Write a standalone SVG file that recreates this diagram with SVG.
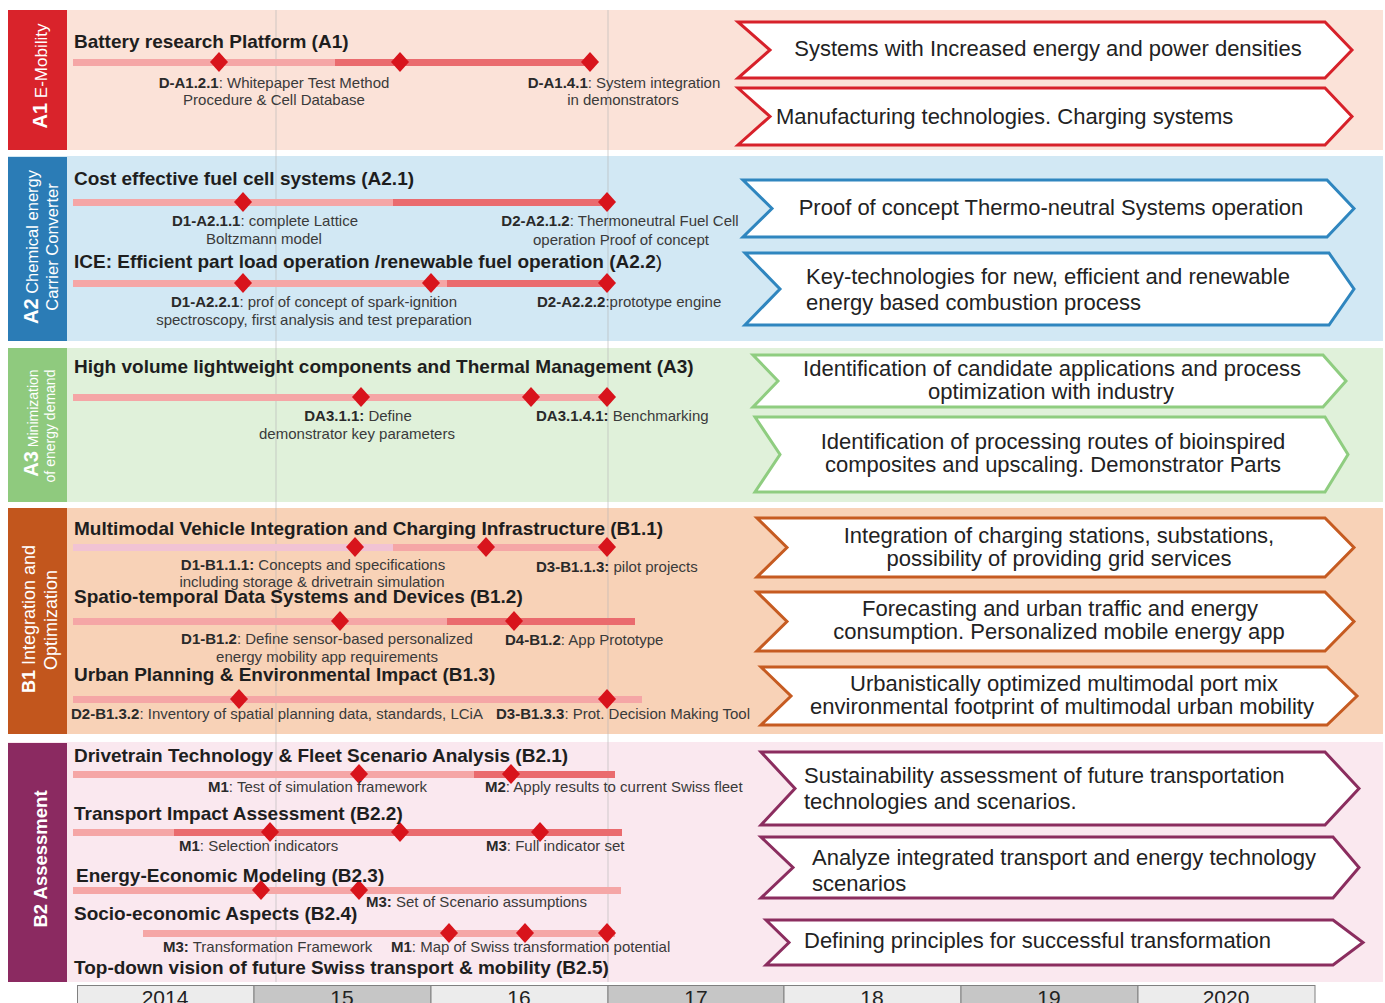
<svg xmlns="http://www.w3.org/2000/svg" xmlns:xlink="http://www.w3.org/1999/xlink" width="1385" height="1003" viewBox="0 0 1385 1003">
<style>
text{font-family:"Liberation Sans",Arial,sans-serif;}
.ttl{font-size:19px;font-weight:bold;fill:#1e1e1e;}
.lbl{font-size:15px;fill:#3a3a3a;}
.lbl tspan.b{font-weight:bold;fill:#2a2a2a;}
.side{fill:#ffffff;}
.big{font-weight:bold;font-size:20px;}
.arr{fill:#ffffff;stroke-width:3;stroke-linejoin:miter;}
.at{font-size:22px;fill:#222;}
.lt{fill:#f5a6a6;}
.dk{fill:#ea6b6e;}
.lv{fill:#f1c3d4;}
.dm{fill:#d8141c;}
.grid{stroke:#b5b5b5;stroke-width:1;opacity:0.6;}
.cellL{fill:#ececec;stroke:#808080;stroke-width:1;}
.cellD{fill:#c6c6c6;stroke:#808080;stroke-width:1;}
.yr{font-size:21px;fill:#222;text-anchor:middle;}
</style>
<defs>
<polygon id="dmd" class="dm" points="0,-10 9,0 0,10 -9,0"/>
</defs>
<rect x="0" y="0" width="1385" height="1003" fill="#ffffff"/>
<g id="bands">
<rect x="8" y="10" width="1375" height="140" fill="#fbe2d8"/>
<rect x="8" y="156" width="1375" height="185" fill="#d2e8f4"/>
<rect x="8" y="348" width="1375" height="154" fill="#e0f1da"/>
<rect x="8" y="508" width="1375" height="226" fill="#f8d2b7"/>
<rect x="8" y="742" width="1375" height="240" fill="#fae8ef"/>
</g>
<g id="gridlines">
<line class="grid" x1="276" y1="10" x2="276" y2="982"/>
<line class="grid" x1="608" y1="10" x2="608" y2="982"/>
</g>
<g id="label-A1">
<rect x="8" y="10" width="59" height="140" fill="#d9232b"/>
<text class="side" transform="translate(47,76) rotate(-90)" text-anchor="middle" font-size="17"><tspan class="big">A1</tspan> E-Mobility</text>
</g>
<g id="label-A2">
<rect x="8" y="157" width="59" height="184" fill="#2b7cb6"/>
<text class="side" transform="translate(38,247) rotate(-90)" text-anchor="middle" font-size="16.5"><tspan class="big">A2</tspan> Chemical energy</text>
<text class="side" transform="translate(58,247) rotate(-90)" text-anchor="middle" font-size="16.5">Carrier Converter</text>
</g>
<g id="label-A3">
<rect x="8" y="348" width="59" height="154" fill="#8fca7e"/>
<text class="side" transform="translate(38,423) rotate(-90)" text-anchor="middle" font-size="14"><tspan class="big">A3</tspan> Minimization</text>
<text class="side" transform="translate(55,426) rotate(-90)" text-anchor="middle" font-size="14">of energy demand</text>
</g>
<g id="label-B1">
<rect x="8" y="508" width="59" height="226" fill="#c2561d"/>
<text class="side" transform="translate(35,619) rotate(-90)" text-anchor="middle" font-size="18"><tspan font-weight="bold">B1</tspan> Integration and</text>
<text class="side" transform="translate(57,620) rotate(-90)" text-anchor="middle" font-size="18">Optimization</text>
</g>
<g id="label-B2">
<rect x="8" y="743" width="59" height="239" fill="#8b2a61"/>
<text class="side" transform="translate(47,859) rotate(-90)" text-anchor="middle" font-size="18.5" font-weight="bold">B2 Assessment</text>
</g>
<g id="connectors">
<rect class="lt" x="73" y="59" width="262" height="7"/>
<rect class="dk" x="335" y="59" width="255" height="7"/>
<rect class="lt" x="73" y="199" width="320" height="7"/>
<rect class="dk" x="393" y="199" width="214" height="7"/>
<rect class="lt" x="73" y="280" width="374" height="7"/>
<rect class="dk" x="447" y="280" width="160" height="7"/>
<rect class="lt" x="73" y="394" width="537" height="7"/>
<rect class="lv" x="73" y="544" width="320" height="7"/>
<rect class="lt" x="393" y="544" width="214" height="7"/>
<rect class="lt" x="73" y="618" width="374" height="7"/>
<rect class="dk" x="447" y="618" width="188" height="7"/>
<rect class="lt" x="73" y="696" width="569" height="7"/>
<rect class="lt" x="73" y="771" width="401" height="7"/>
<rect class="dk" x="474" y="771" width="141" height="7"/>
<rect class="lt" x="73" y="829" width="101" height="7"/>
<rect class="dk" x="174" y="829" width="448" height="7"/>
<rect class="lt" x="73" y="887" width="548" height="7"/>
<rect class="lt" x="143" y="930" width="472" height="7"/>
</g>
<g id="milestones">
<use xlink:href="#dmd" x="219" y="62"/><use xlink:href="#dmd" x="400" y="62"/><use xlink:href="#dmd" x="590" y="62"/>
<use xlink:href="#dmd" x="243" y="202"/><use xlink:href="#dmd" x="607" y="202"/>
<use xlink:href="#dmd" x="243" y="283"/><use xlink:href="#dmd" x="431" y="283"/><use xlink:href="#dmd" x="607" y="283"/>
<use xlink:href="#dmd" x="361" y="397"/><use xlink:href="#dmd" x="531" y="397"/><use xlink:href="#dmd" x="607" y="397"/>
<use xlink:href="#dmd" x="355" y="547"/><use xlink:href="#dmd" x="486" y="547"/><use xlink:href="#dmd" x="607" y="547"/>
<use xlink:href="#dmd" x="340" y="621"/><use xlink:href="#dmd" x="514" y="621"/>
<use xlink:href="#dmd" x="239" y="699"/><use xlink:href="#dmd" x="607" y="699"/>
<use xlink:href="#dmd" x="359" y="774"/><use xlink:href="#dmd" x="511" y="774"/>
<use xlink:href="#dmd" x="270" y="832"/><use xlink:href="#dmd" x="400" y="832"/><use xlink:href="#dmd" x="540" y="832"/>
<use xlink:href="#dmd" x="261" y="890"/><use xlink:href="#dmd" x="359" y="890"/>
<use xlink:href="#dmd" x="449" y="933"/><use xlink:href="#dmd" x="525" y="933"/><use xlink:href="#dmd" x="607" y="933"/>
</g>
<g id="task-A1">
<text class="ttl" x="74" y="48">Battery research Platform (A1)</text>
<text class="lbl" x="274" y="88" text-anchor="middle"><tspan class="b">D-A1.2.1</tspan>: Whitepaper Test Method</text>
<text class="lbl" x="274" y="105" text-anchor="middle">Procedure &amp; Cell Database</text>
<text class="lbl" x="624" y="88" text-anchor="middle"><tspan class="b">D-A1.4.1</tspan>: System integration</text>
<text class="lbl" x="623" y="105" text-anchor="middle">in demonstrators</text>
</g>
<g id="task-A2-1">
<text class="ttl" x="74" y="185">Cost effective fuel cell systems (A2.1)</text>
<text class="lbl" x="265" y="226" text-anchor="middle"><tspan class="b">D1-A2.1.1</tspan>: complete Lattice</text>
<text class="lbl" x="264" y="244" text-anchor="middle">Boltzmann model</text>
<text class="lbl" x="620" y="226" text-anchor="middle"><tspan class="b">D2-A2.1.2</tspan>: Thermoneutral Fuel Cell</text>
<text class="lbl" x="621" y="245" text-anchor="middle">operation Proof of concept</text>
</g>
<g id="task-A2-2">
<text class="ttl" x="74" y="268">ICE: Efficient part load operation /renewable fuel operation (A2.2<tspan font-weight="normal">)</tspan></text>
<text class="lbl" x="314" y="307" text-anchor="middle"><tspan class="b">D1-A2.2.1</tspan>: prof of concept of spark-ignition</text>
<text class="lbl" x="314" y="325" text-anchor="middle">spectroscopy, first analysis and test preparation</text>
<text class="lbl" x="537" y="307"><tspan class="b">D2-A2.2.2</tspan>:prototype engine</text>
</g>
<g id="task-A3">
<text class="ttl" x="74" y="373">High volume lightweight components and Thermal Management (A3)</text>
<text class="lbl" x="358" y="421" text-anchor="middle"><tspan class="b">DA3.1.1:</tspan> Define</text>
<text class="lbl" x="357" y="439" text-anchor="middle">demonstrator key parameters</text>
<text class="lbl" x="536" y="421"><tspan class="b">DA3.1.4.1:</tspan> Benchmarking</text>
</g>
<g id="task-B1-1">
<text class="ttl" x="74" y="535">Multimodal Vehicle Integration and Charging Infrastructure (B1.1)</text>
<text class="lbl" x="313" y="570" text-anchor="middle"><tspan class="b">D1-B1.1.1:</tspan> Concepts and specifications</text>
<text class="lbl" x="312" y="587" text-anchor="middle">including storage &amp; drivetrain simulation</text>
<text class="lbl" x="536" y="572"><tspan class="b">D3-B1.1.3:</tspan> pilot projects</text>
</g>
<g id="task-B1-2">
<text class="ttl" x="74" y="603">Spatio-temporal Data Systems and Devices (B1.2)</text>
<text class="lbl" x="327" y="644" text-anchor="middle"><tspan class="b">D1-B1.2</tspan>: Define sensor-based personalized</text>
<text class="lbl" x="327" y="662" text-anchor="middle">energy mobility app requirements</text>
<text class="lbl" x="505" y="645"><tspan class="b">D4-B1.2</tspan>: App Prototype</text>
</g>
<g id="task-B1-3">
<text class="ttl" x="74" y="681">Urban Planning &amp; Environmental Impact (B1.3)</text>
<text class="lbl" x="71" y="719"><tspan class="b">D2-B1.3.2</tspan>: Inventory of spatial planning data, standards, LCiA</text>
<text class="lbl" x="496" y="719"><tspan class="b">D3-B1.3.3</tspan>: Prot. Decision Making Tool</text>
</g>
<g id="task-B2-1">
<text class="ttl" x="74" y="762">Drivetrain Technology &amp; Fleet Scenario Analysis (B2.1)</text>
<text class="lbl" x="208" y="792"><tspan class="b">M1</tspan>: Test of simulation framework</text>
<text class="lbl" x="485" y="792"><tspan class="b">M2</tspan>: Apply results to current Swiss fleet</text>
</g>
<g id="task-B2-2">
<text class="ttl" x="74" y="820">Transport Impact Assessment (B2.2)</text>
<text class="lbl" x="179" y="851"><tspan class="b">M1</tspan>: Selection indicators</text>
<text class="lbl" x="486" y="851"><tspan class="b">M3</tspan>: Full indicator set</text>
</g>
<g id="task-B2-3">
<text class="ttl" x="76" y="882">Energy-Economic Modeling (B2.3)</text>
<text class="lbl" x="366" y="907"><tspan class="b">M3:</tspan> Set of Scenario assumptions</text>
</g>
<g id="task-B2-4">
<text class="ttl" x="74" y="920">Socio-economic Aspects (B2.4)</text>
<text class="lbl" x="163" y="952"><tspan class="b">M3:</tspan> Transformation Framework</text>
<text class="lbl" x="391" y="952"><tspan class="b">M1</tspan>: Map of Swiss transformation potential</text>
</g>
<g id="task-B2-5">
<text class="ttl" x="74" y="974">Top-down vision of future Swiss transport &amp; mobility (B2.5)</text>
</g>
<g id="out-A1-1">
<path class="arr" stroke="#d7212a" d="M738,22 L1325,22 L1352,50 L1325,78 L738,78 L770,50 Z"/>
<text class="at" x="1048" y="56" text-anchor="middle">Systems with Increased energy and power densities</text>
</g>
<g id="out-A1-2">
<path class="arr" stroke="#d7212a" d="M738,88 L1325,88 L1352,116.5 L1325,145 L738,145 L770,116.5 Z"/>
<text class="at" x="776" y="124">Manufacturing technologies. Charging systems</text>
</g>
<g id="out-A2-1">
<path class="arr" stroke="#2f86bf" d="M743,180 L1327,180 L1354,208.5 L1327,237 L743,237 L772,208.5 Z"/>
<text class="at" x="1051" y="215" text-anchor="middle">Proof of concept Thermo-neutral Systems operation</text>
</g>
<g id="out-A2-2">
<path class="arr" stroke="#2f86bf" d="M745,253 L1329,253 L1354,289 L1329,325 L745,325 L780,289 Z"/>
<text class="at" x="806" y="284">Key-technologies for new, efficient and renewable</text>
<text class="at" x="806" y="310">energy based combustion process</text>
</g>
<g id="out-A3-1">
<path class="arr" stroke="#8fcd80" d="M753,355 L1323,355 L1346,381 L1323,407 L753,407 L778,381 Z"/>
<text class="at" x="1052" y="376" text-anchor="middle">Identification of candidate applications and process</text>
<text class="at" x="1051" y="399" text-anchor="middle">optimization with industry</text>
</g>
<g id="out-A3-2">
<path class="arr" stroke="#8fcd80" d="M755,417 L1325,417 L1348,454.5 L1325,492 L755,492 L780,454.5 Z"/>
<text class="at" x="1053" y="449" text-anchor="middle">Identification of processing routes  of bioinspired</text>
<text class="at" x="1053" y="472" text-anchor="middle">composites and upscaling. Demonstrator Parts</text>
</g>
<g id="out-B1-1">
<path class="arr" stroke="#c65b21" d="M757,518 L1325,518 L1354,547.5 L1325,577 L757,577 L787,547.5 Z"/>
<text class="at" x="1059" y="543" text-anchor="middle">Integration of charging stations, substations,</text>
<text class="at" x="1059" y="566" text-anchor="middle">possibility of providing grid services</text>
</g>
<g id="out-B1-2">
<path class="arr" stroke="#c65b21" d="M757,592 L1325,592 L1354,621.5 L1325,651 L757,651 L787,621.5 Z"/>
<text class="at" x="1060" y="616" text-anchor="middle">Forecasting and urban traffic and energy</text>
<text class="at" x="1059" y="639" text-anchor="middle">consumption. Personalized mobile energy app</text>
</g>
<g id="out-B1-3">
<path class="arr" stroke="#c65b21" d="M761,667 L1327,667 L1357,696 L1327,725 L761,725 L791,696 Z"/>
<text class="at" x="1064" y="691" text-anchor="middle">Urbanistically optimized multimodal port mix</text>
<text class="at" x="1062" y="714" text-anchor="middle">environmental footprint of multimodal urban mobility</text>
</g>
<g id="out-B2-1">
<path class="arr" stroke="#8b2d5f" d="M761,752 L1325,752 L1359,788.5 L1325,825 L761,825 L795,788.5 Z"/>
<text class="at" x="804" y="783">Sustainability assessment of future transportation</text>
<text class="at" x="804" y="809">technologies and scenarios.</text>
</g>
<g id="out-B2-2">
<path class="arr" stroke="#8b2d5f" d="M761,837 L1333,837 L1359,867.5 L1333,898 L761,898 L793,867.5 Z"/>
<text class="at" x="812" y="865">Analyze integrated transport and energy technology</text>
<text class="at" x="812" y="891">scenarios</text>
</g>
<g id="out-B2-3">
<path class="arr" stroke="#8b2d5f" d="M766,920 L1333,920 L1363,942.5 L1333,965 L766,965 L789,942.5 Z"/>
<text class="at" x="804" y="948">Defining principles for successful transformation</text>
</g>
<g id="years">
<rect class="cellL" x="77.5" y="985.5" width="176.5" height="25"/>
<rect class="cellD" x="254" y="985.5" width="177" height="25"/>
<rect class="cellL" x="431" y="985.5" width="177" height="25"/>
<rect class="cellD" x="608" y="985.5" width="176" height="25"/>
<rect class="cellL" x="784" y="985.5" width="177" height="25"/>
<rect class="cellD" x="961" y="985.5" width="177" height="25"/>
<rect class="cellL" x="1138" y="985.5" width="177" height="25"/>
<text class="yr" x="165" y="1005">2014</text>
<text class="yr" x="342" y="1005">15</text>
<text class="yr" x="519" y="1005">16</text>
<text class="yr" x="696" y="1005">17</text>
<text class="yr" x="872" y="1005">18</text>
<text class="yr" x="1049" y="1005">19</text>
<text class="yr" x="1226" y="1005">2020</text>
</g>
</svg>
